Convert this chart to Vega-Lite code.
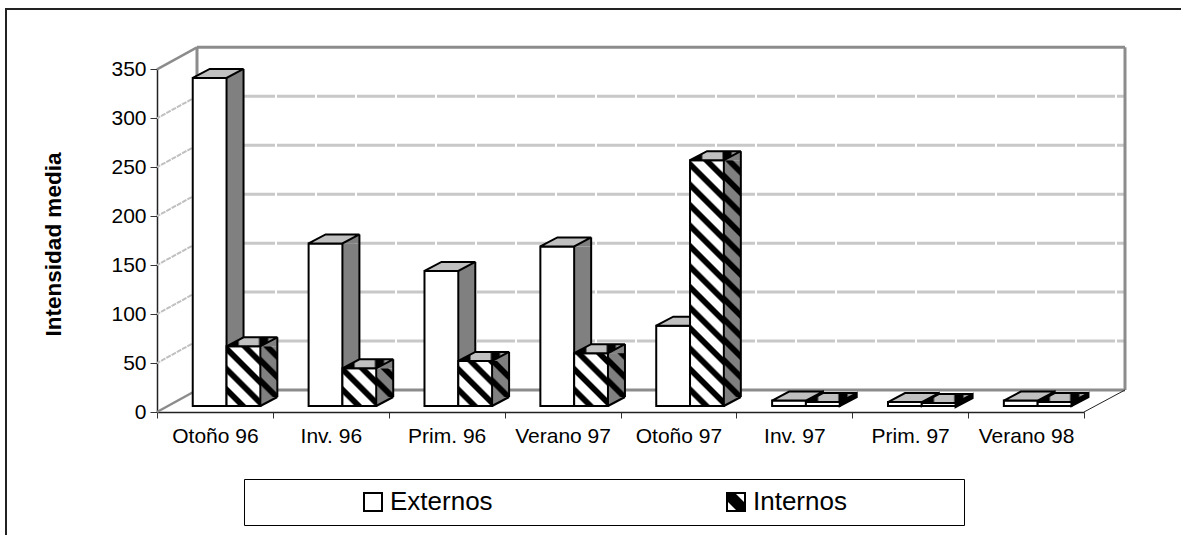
{
"$schema":"https://vega.github.io/schema/vega-lite/v6.json",
"width":1178,"height":529,"autosize":"none",
"padding":{"left":6,"top":9,"right":-3,"bottom":-3},
"background":"white",
"config":{"view":{"stroke":"#222222","strokeWidth":2},"font":"Liberation Sans"},
"datasets":{
"bars":[
{"period":"Otoño 96","series":"Externos","value":335},
{"period":"Otoño 96","series":"Internos","value":61},
{"period":"Inv. 96","series":"Externos","value":166},
{"period":"Inv. 96","series":"Internos","value":38.5},
{"period":"Prim. 96","series":"Externos","value":138},
{"period":"Prim. 96","series":"Internos","value":46},
{"period":"Verano 97","series":"Externos","value":163},
{"period":"Verano 97","series":"Internos","value":54},
{"period":"Otoño 97","series":"Externos","value":82},
{"period":"Otoño 97","series":"Internos","value":251},
{"period":"Inv. 97","series":"Externos","value":5.5},
{"period":"Inv. 97","series":"Internos","value":4},
{"period":"Prim. 97","series":"Externos","value":4},
{"period":"Prim. 97","series":"Internos","value":3},
{"period":"Verano 98","series":"Externos","value":5.5},
{"period":"Verano 98","series":"Internos","value":4}
],
"ticks":[{"tick":0},{"tick":50},{"tick":100},{"tick":150},{"tick":200},{"tick":250},{"tick":300},{"tick":350}]
},
"resolve":{"scale":{"x":"independent","y":"independent"}},
"layer":[
{"data":{"name":"ticks"},
"layer":[
{"transform":[{"filter":"datum.tick>0 && datum.tick<350"}],
"mark":{"type":"rule","stroke":"#c8c8c8","strokeWidth":3,"strokeDash":[38,2]},
"encoding":{"x":{"datum":0,"type":"quantitative","scale":{"domain":[0,8],"range":[191,1119]},"axis":null},"x2":{"datum":8},"y":{"field":"tick","type":"quantitative","scale":{"domain":[0,350],"range":[381,38.3],"nice":false},"axis":null}}},
{"transform":[{"filter":"datum.tick===0 || datum.tick===350"}],
"mark":{"type":"rule","stroke":"#8c8c8c","strokeWidth":3},
"encoding":{"x":{"datum":0,"type":"quantitative","axis":null},"x2":{"datum":8},"y":{"field":"tick","type":"quantitative","axis":null}}},
{"transform":[{"filter":"datum.tick===0"}],
"mark":{"type":"rule","stroke":"#8c8c8c","strokeWidth":3},
"encoding":{"x":{"datum":0,"type":"quantitative","axis":null},"y":{"datum":0,"type":"quantitative","axis":null},"y2":{"datum":350}}},
{"transform":[{"filter":"datum.tick===0"}],
"mark":{"type":"rule","stroke":"#8c8c8c","strokeWidth":3},
"encoding":{"x":{"datum":8,"type":"quantitative","axis":null},"y":{"datum":0,"type":"quantitative","axis":null},"y2":{"datum":350}}},
{"transform":[{"filter":"datum.tick>0 && datum.tick<350"}],
"mark":{"type":"point","shape":"M0,0L-40,22","size":4,"filled":false,"stroke":"#c0c0c0","strokeWidth":2,"strokeDash":[5,1],"opacity":1},
"encoding":{"x":{"datum":0,"type":"quantitative","axis":null},"y":{"field":"tick","type":"quantitative","axis":null}}},
{"transform":[{"filter":"datum.tick===0 || datum.tick===350"}],
"mark":{"type":"point","shape":"M0,0L-40,22","size":4,"filled":false,"stroke":"#8c8c8c","strokeWidth":2.5,"opacity":1},
"encoding":{"x":{"datum":0,"type":"quantitative","axis":null},"y":{"field":"tick","type":"quantitative","axis":null}}},
{"transform":[{"filter":"datum.tick===0"}],
"mark":{"type":"point","shape":"M0,0L-41,22","size":4,"filled":false,"stroke":"#222222","strokeWidth":1,"opacity":1},
"encoding":{"x":{"datum":8,"type":"quantitative","axis":null},"y":{"field":"tick","type":"quantitative","axis":null}}}
]},
{"data":{"name":"bars"},
"encoding":{
"x":{"field":"period","type":"nominal","title":null,"scale":{"type":"band","domain":["Otoño 96","Inv. 96","Prim. 96","Verano 97","Otoño 97","Inv. 97","Prim. 97","Verano 98"],"range":[151,1078],"paddingInner":0,"paddingOuter":0},
"axis":{"offset":-126,"labelAngle":0,"labelFont":"Liberation Sans","labelFontSize":21,"labelColor":"#000000","labelPadding":7,"tickSize":6,"tickBand":"extent","tickColor":"#333333","domainColor":"#222222","domainWidth":1.5,"grid":false,"labelOverlap":false}},
"y":{"field":"value","type":"quantitative","stack":null,"title":"Intensidad media","scale":{"domain":[0,350],"range":[403,60.3],"nice":false},
"axis":{"offset":-151,"values":[0,50,100,150,200,250,300,350],"labelFont":"Liberation Sans","labelFontSize":21,"labelColor":"#000000","labelPadding":4,"tickSize":7,"tickColor":"#333333","domainColor":"#222222","domainWidth":1.5,"grid":false,"titleFont":"Liberation Sans","titleFontSize":22.5,"titleFontWeight":"bold","titleColor":"#000000","titleX":-92,"titleY":235}}
},
"layer":[
{"mark":{"type":"point","size":0,"filled":true,"fill":"#000000","opacity":1},
"encoding":{"shape":{"field":"series","type":"nominal","scale":{"domain":["Externos","Internos"],"range":["M-10,-10H10V10H-10ZM-8,-8V8H8V-8Z","M-10,-10H10V10H-10ZM-8,-8V8H8V-8ZM-8,-8L0,-8L8,0L8,8L0,8L-8,0Z"]},
"legend":{"title":" ","titleOrient":"right","titlePadding":107,"titleFontSize":10,"orient":"none","legendX":238,"legendY":470,"direction":"horizontal","columns":2,"padding":10,"strokeColor":"#000000","fillColor":"#ffffff","symbolSize":4,"symbolFillColor":"#000000","symbolStrokeWidth":0,"symbolOffset":106,"labelFont":"Liberation Sans","labelFontSize":26,"labelColor":"#000000","labelOffset":4,"columnPadding":124,"labelLimit":300}}}},
{"transform":[{"filter":"datum.series==='Externos' && datum.value>=10"}],
"mark":{"type":"bar","width":17,"xOffset":20.1,"yOffset":-6,"y2Offset":-15,"fill":"#808080"},
"encoding":{"y2":{"datum":0}}},
{"transform":[{"filter":"datum.series==='Externos' && datum.value>=10"}],
"mark":{"type":"point","shape":"M-8.5,0L8.5,-9L8.5,0Z","size":4,"filled":true,"fill":"#808080","opacity":1,"xOffset":20.1,"yOffset":-6}},
{"transform":[{"filter":"datum.series==='Externos' && datum.value>=10"}],
"mark":{"type":"point","shape":"M-8.5,0L8.5,0L-8.5,9Z","size":4,"filled":true,"fill":"#808080","opacity":1,"xOffset":20.1,"yOffset":-15},
"encoding":{"y":{"datum":0}}},
{"transform":[{"filter":"datum.series==='Externos' && datum.value>=10"}],
"mark":{"type":"point","shape":"M-8.5,9L8.5,0","size":4,"filled":false,"stroke":"#000000","strokeWidth":2,"opacity":1,"xOffset":20.1,"yOffset":-15},
"encoding":{"y":{"datum":0}}},
{"transform":[{"filter":"datum.series==='Externos' && datum.value>=10"}],
"mark":{"type":"rule","stroke":"#000000","strokeWidth":2,"xOffset":28.6,"yOffset":-15,"y2Offset":-15},
"encoding":{"y2":{"datum":0}}},
{"transform":[{"filter":"datum.series==='Externos' && datum.value<10"}],
"mark":{"type":"point","shape":"M-8.5,0L8.5,-9L8.5,-5L-8.5,4Z","size":4,"filled":true,"fill":"#808080","stroke":"#000000","strokeWidth":2,"opacity":1,"xOffset":20.1,"yOffset":-6}},
{"transform":[{"filter":"datum.series==='Externos'"}],
"mark":{"type":"bar","width":33.8,"xOffset":-5.3,"yOffset":-6,"y2Offset":-6,"stroke":"#000000","strokeWidth":2,"fill":"#ffffff"},
"encoding":{"y2":{"datum":0}}},
{"transform":[{"filter":"datum.series==='Externos'"}],
"mark":{"type":"point","shape":"M-16.9,0L16.9,0L33.9,-9L0.1,-9Z","size":4,"filled":true,"fill":"#c0c0c0","stroke":"#000000","strokeWidth":2,"opacity":1,"xOffset":-5.3,"yOffset":-6}},

{"transform":[{"filter":"datum.series==='Internos' && datum.value>=10"}],
"mark":{"type":"point","shape":"M-8.5,0L8.5,-9L8.5,0Z","size":4,"filled":true,"fill":"#808080","opacity":1,"xOffset":53.9,"yOffset":-6}},
{"transform":[{"filter":"datum.series==='Internos' && datum.value>=10"}],
"mark":{"type":"point","shape":"M-8.5,0L8.5,0L-8.5,9Z","size":4,"filled":true,"fill":"#808080","opacity":1,"xOffset":53.9,"yOffset":-15},
"encoding":{"y":{"datum":0}}},
{"transform":[{"filter":"datum.series==='Internos' && datum.period==='Otoño 96'"}],
"mark":{"type":"bar","width":17,"xOffset":53.9,"yOffset":-6,"y2Offset":-15,"fill":{"gradient":"linear","x1":0,"y1":1,"x2":0.4857,"y2":-0.4514,"stops":[{"offset":0.0125,"color":"#808080"},{"offset":0.1375,"color":"#808080"},{"offset":0.1625,"color":"#000"},{"offset":0.2375,"color":"#000"},{"offset":0.2625,"color":"#808080"},{"offset":0.3875,"color":"#808080"},{"offset":0.4125,"color":"#000"},{"offset":0.4875,"color":"#000"},{"offset":0.5125,"color":"#808080"},{"offset":0.6375,"color":"#808080"},{"offset":0.6625,"color":"#000"},{"offset":0.7375,"color":"#000"},{"offset":0.7625,"color":"#808080"},{"offset":0.8875,"color":"#808080"},{"offset":0.9125,"color":"#000"},{"offset":0.9875,"color":"#000"}]}},
"encoding":{"y2":{"datum":0}}},
{"transform":[{"filter":"datum.series==='Internos' && datum.period==='Inv. 96'"}],
"mark":{"type":"bar","width":17,"xOffset":53.9,"yOffset":-6,"y2Offset":-15,"fill":{"gradient":"linear","x1":0,"y1":1,"x2":1.2525,"y2":-1.1145,"stops":[{"offset":0.0125,"color":"#808080"},{"offset":0.1375,"color":"#808080"},{"offset":0.1625,"color":"#000"},{"offset":0.2375,"color":"#000"},{"offset":0.2625,"color":"#808080"},{"offset":0.3875,"color":"#808080"},{"offset":0.4125,"color":"#000"},{"offset":0.4875,"color":"#000"},{"offset":0.5125,"color":"#808080"},{"offset":0.6375,"color":"#808080"},{"offset":0.6625,"color":"#000"},{"offset":0.7375,"color":"#000"},{"offset":0.7625,"color":"#808080"},{"offset":0.8875,"color":"#808080"},{"offset":0.9125,"color":"#000"},{"offset":0.9875,"color":"#000"}]}},
"encoding":{"y2":{"datum":0}}},
{"transform":[{"filter":"datum.series==='Internos' && datum.period==='Prim. 96'"}],
"mark":{"type":"bar","width":17,"xOffset":53.9,"yOffset":-6,"y2Offset":-15,"fill":{"gradient":"linear","x1":0,"y1":1,"x2":0.8756,"y2":-0.8594,"stops":[{"offset":0.0125,"color":"#808080"},{"offset":0.1375,"color":"#808080"},{"offset":0.1625,"color":"#000"},{"offset":0.2375,"color":"#000"},{"offset":0.2625,"color":"#808080"},{"offset":0.3875,"color":"#808080"},{"offset":0.4125,"color":"#000"},{"offset":0.4875,"color":"#000"},{"offset":0.5125,"color":"#808080"},{"offset":0.6375,"color":"#808080"},{"offset":0.6625,"color":"#000"},{"offset":0.7375,"color":"#000"},{"offset":0.7625,"color":"#808080"},{"offset":0.8875,"color":"#808080"},{"offset":0.9125,"color":"#000"},{"offset":0.9875,"color":"#000"}]}},
"encoding":{"y2":{"datum":0}}},
{"transform":[{"filter":"datum.series==='Internos' && datum.period==='Verano 97'"}],
"mark":{"type":"bar","width":17,"xOffset":53.9,"yOffset":-6,"y2Offset":-15,"fill":{"gradient":"linear","x1":0,"y1":1,"x2":0.629,"y2":-0.6243,"stops":[{"offset":0.0125,"color":"#808080"},{"offset":0.1375,"color":"#808080"},{"offset":0.1625,"color":"#000"},{"offset":0.2375,"color":"#000"},{"offset":0.2625,"color":"#808080"},{"offset":0.3875,"color":"#808080"},{"offset":0.4125,"color":"#000"},{"offset":0.4875,"color":"#000"},{"offset":0.5125,"color":"#808080"},{"offset":0.6375,"color":"#808080"},{"offset":0.6625,"color":"#000"},{"offset":0.7375,"color":"#000"},{"offset":0.7625,"color":"#808080"},{"offset":0.8875,"color":"#808080"},{"offset":0.9125,"color":"#000"},{"offset":0.9875,"color":"#000"}]}},
"encoding":{"y2":{"datum":0}}},
{"transform":[{"filter":"datum.series==='Internos' && datum.period==='Otoño 97'"}],
"mark":{"type":"bar","width":17,"xOffset":53.9,"yOffset":-6,"y2Offset":-15,"fill":{"gradient":"linear","x1":0,"y1":1,"x2":0.08642,"y2":-0.2048,"stops":[{"offset":0.0036,"color":"#808080"},{"offset":0.0393,"color":"#808080"},{"offset":0.0464,"color":"#000"},{"offset":0.0679,"color":"#000"},{"offset":0.075,"color":"#808080"},{"offset":0.1107,"color":"#808080"},{"offset":0.1179,"color":"#000"},{"offset":0.1393,"color":"#000"},{"offset":0.1464,"color":"#808080"},{"offset":0.1821,"color":"#808080"},{"offset":0.1893,"color":"#000"},{"offset":0.2107,"color":"#000"},{"offset":0.2179,"color":"#808080"},{"offset":0.2536,"color":"#808080"},{"offset":0.2607,"color":"#000"},{"offset":0.2821,"color":"#000"},{"offset":0.2893,"color":"#808080"},{"offset":0.325,"color":"#808080"},{"offset":0.3321,"color":"#000"},{"offset":0.3536,"color":"#000"},{"offset":0.3607,"color":"#808080"},{"offset":0.3964,"color":"#808080"},{"offset":0.4036,"color":"#000"},{"offset":0.425,"color":"#000"},{"offset":0.4321,"color":"#808080"},{"offset":0.4679,"color":"#808080"},{"offset":0.475,"color":"#000"},{"offset":0.4964,"color":"#000"},{"offset":0.5036,"color":"#808080"},{"offset":0.5393,"color":"#808080"},{"offset":0.5464,"color":"#000"},{"offset":0.5679,"color":"#000"},{"offset":0.575,"color":"#808080"},{"offset":0.6107,"color":"#808080"},{"offset":0.6179,"color":"#000"},{"offset":0.6393,"color":"#000"},{"offset":0.6464,"color":"#808080"},{"offset":0.6821,"color":"#808080"},{"offset":0.6893,"color":"#000"},{"offset":0.7107,"color":"#000"},{"offset":0.7179,"color":"#808080"},{"offset":0.7536,"color":"#808080"},{"offset":0.7607,"color":"#000"},{"offset":0.7821,"color":"#000"},{"offset":0.7893,"color":"#808080"},{"offset":0.825,"color":"#808080"},{"offset":0.8321,"color":"#000"},{"offset":0.8536,"color":"#000"},{"offset":0.8607,"color":"#808080"},{"offset":0.8964,"color":"#808080"},{"offset":0.9036,"color":"#000"},{"offset":0.925,"color":"#000"},{"offset":0.9321,"color":"#808080"},{"offset":0.9679,"color":"#808080"},{"offset":0.975,"color":"#000"},{"offset":0.9964,"color":"#000"}]}},
"encoding":{"y2":{"datum":0}}},
{"transform":[{"filter":"datum.series==='Internos' && datum.value>=10"}],
"mark":{"type":"point","shape":"M-8.5,9L8.5,0","size":4,"filled":false,"stroke":"#000000","strokeWidth":2,"opacity":1,"xOffset":53.9,"yOffset":-15},
"encoding":{"y":{"datum":0}}},
{"transform":[{"filter":"datum.series==='Internos' && datum.value>=10"}],
"mark":{"type":"rule","stroke":"#000000","strokeWidth":2,"xOffset":62.4,"yOffset":-15,"y2Offset":-15},
"encoding":{"y2":{"datum":0}}},
{"transform":[{"filter":"datum.series==='Internos' && datum.value<10"}],
"mark":{"type":"point","shape":"M-8.5,0L8.5,-9L8.5,-5L-8.5,4Z","size":4,"filled":true,"fill":"#000000","stroke":"#000000","strokeWidth":2,"opacity":1,"xOffset":53.9,"yOffset":-6}},

{"transform":[{"filter":"datum.series==='Internos' && datum.period==='Otoño 96'"}],
"mark":{"type":"bar","width":33.8,"xOffset":28.5,"yOffset":-6,"y2Offset":-6,"stroke":"#000000","strokeWidth":2,"fill":{"gradient":"linear","x1":0,"y1":1,"x2":0.7343,"y2":-0.299,"stops":[{"offset":0.01,"color":"#fff"},{"offset":0.11,"color":"#fff"},{"offset":0.13,"color":"#000"},{"offset":0.19,"color":"#000"},{"offset":0.21,"color":"#fff"},{"offset":0.31,"color":"#fff"},{"offset":0.33,"color":"#000"},{"offset":0.39,"color":"#000"},{"offset":0.41,"color":"#fff"},{"offset":0.51,"color":"#fff"},{"offset":0.53,"color":"#000"},{"offset":0.59,"color":"#000"},{"offset":0.61,"color":"#fff"},{"offset":0.71,"color":"#fff"},{"offset":0.73,"color":"#000"},{"offset":0.79,"color":"#000"},{"offset":0.81,"color":"#fff"},{"offset":0.91,"color":"#fff"},{"offset":0.93,"color":"#000"},{"offset":0.99,"color":"#000"}]}},
"encoding":{"y2":{"datum":0}}},
{"transform":[{"filter":"datum.series==='Internos' && datum.period==='Inv. 96'"}],
"mark":{"type":"bar","width":33.8,"xOffset":28.5,"yOffset":-6,"y2Offset":-6,"stroke":"#000000","strokeWidth":2,"fill":{"gradient":"linear","x1":0,"y1":1,"x2":1.0811,"y2":-0.2058,"stops":[{"offset":0.0125,"color":"#fff"},{"offset":0.1375,"color":"#fff"},{"offset":0.1625,"color":"#000"},{"offset":0.2375,"color":"#000"},{"offset":0.2625,"color":"#fff"},{"offset":0.3875,"color":"#fff"},{"offset":0.4125,"color":"#000"},{"offset":0.4875,"color":"#000"},{"offset":0.5125,"color":"#fff"},{"offset":0.6375,"color":"#fff"},{"offset":0.6625,"color":"#000"},{"offset":0.7375,"color":"#000"},{"offset":0.7625,"color":"#fff"},{"offset":0.8875,"color":"#fff"},{"offset":0.9125,"color":"#000"},{"offset":0.9875,"color":"#000"}]}},
"encoding":{"y2":{"datum":0}}},
{"transform":[{"filter":"datum.series==='Internos' && datum.period==='Prim. 96'"}],
"mark":{"type":"bar","width":33.8,"xOffset":28.5,"yOffset":-6,"y2Offset":-6,"stroke":"#000000","strokeWidth":2,"fill":{"gradient":"linear","x1":0,"y1":1,"x2":0.8726,"y2":-0.1643,"stops":[{"offset":0.0125,"color":"#fff"},{"offset":0.1375,"color":"#fff"},{"offset":0.1625,"color":"#000"},{"offset":0.2375,"color":"#000"},{"offset":0.2625,"color":"#fff"},{"offset":0.3875,"color":"#fff"},{"offset":0.4125,"color":"#000"},{"offset":0.4875,"color":"#000"},{"offset":0.5125,"color":"#fff"},{"offset":0.6375,"color":"#fff"},{"offset":0.6625,"color":"#000"},{"offset":0.7375,"color":"#000"},{"offset":0.7625,"color":"#fff"},{"offset":0.8875,"color":"#fff"},{"offset":0.9125,"color":"#000"},{"offset":0.9875,"color":"#000"}]}},
"encoding":{"y2":{"datum":0}}},
{"transform":[{"filter":"datum.series==='Internos' && datum.period==='Verano 97'"}],
"mark":{"type":"bar","width":33.8,"xOffset":28.5,"yOffset":-6,"y2Offset":-6,"stroke":"#000000","strokeWidth":2,"fill":{"gradient":"linear","x1":0,"y1":1,"x2":0.8791,"y2":-0.3759,"stops":[{"offset":0.01,"color":"#fff"},{"offset":0.11,"color":"#fff"},{"offset":0.13,"color":"#000"},{"offset":0.19,"color":"#000"},{"offset":0.21,"color":"#fff"},{"offset":0.31,"color":"#fff"},{"offset":0.33,"color":"#000"},{"offset":0.39,"color":"#000"},{"offset":0.41,"color":"#fff"},{"offset":0.51,"color":"#fff"},{"offset":0.53,"color":"#000"},{"offset":0.59,"color":"#000"},{"offset":0.61,"color":"#fff"},{"offset":0.71,"color":"#fff"},{"offset":0.73,"color":"#000"},{"offset":0.79,"color":"#000"},{"offset":0.81,"color":"#fff"},{"offset":0.91,"color":"#fff"},{"offset":0.93,"color":"#000"},{"offset":0.99,"color":"#000"}]}},
"encoding":{"y2":{"datum":0}}},
{"transform":[{"filter":"datum.series==='Internos' && datum.period==='Otoño 97'"}],
"mark":{"type":"bar","width":33.8,"xOffset":28.5,"yOffset":-6,"y2Offset":-6,"stroke":"#000000","strokeWidth":2,"fill":{"gradient":"linear","x1":0,"y1":1,"x2":0.15733,"y2":-0.14506,"stops":[{"offset":0.0036,"color":"#fff"},{"offset":0.0393,"color":"#fff"},{"offset":0.0464,"color":"#000"},{"offset":0.0679,"color":"#000"},{"offset":0.075,"color":"#fff"},{"offset":0.1107,"color":"#fff"},{"offset":0.1179,"color":"#000"},{"offset":0.1393,"color":"#000"},{"offset":0.1464,"color":"#fff"},{"offset":0.1821,"color":"#fff"},{"offset":0.1893,"color":"#000"},{"offset":0.2107,"color":"#000"},{"offset":0.2179,"color":"#fff"},{"offset":0.2536,"color":"#fff"},{"offset":0.2607,"color":"#000"},{"offset":0.2821,"color":"#000"},{"offset":0.2893,"color":"#fff"},{"offset":0.325,"color":"#fff"},{"offset":0.3321,"color":"#000"},{"offset":0.3536,"color":"#000"},{"offset":0.3607,"color":"#fff"},{"offset":0.3964,"color":"#fff"},{"offset":0.4036,"color":"#000"},{"offset":0.425,"color":"#000"},{"offset":0.4321,"color":"#fff"},{"offset":0.4679,"color":"#fff"},{"offset":0.475,"color":"#000"},{"offset":0.4964,"color":"#000"},{"offset":0.5036,"color":"#fff"},{"offset":0.5393,"color":"#fff"},{"offset":0.5464,"color":"#000"},{"offset":0.5679,"color":"#000"},{"offset":0.575,"color":"#fff"},{"offset":0.6107,"color":"#fff"},{"offset":0.6179,"color":"#000"},{"offset":0.6393,"color":"#000"},{"offset":0.6464,"color":"#fff"},{"offset":0.6821,"color":"#fff"},{"offset":0.6893,"color":"#000"},{"offset":0.7107,"color":"#000"},{"offset":0.7179,"color":"#fff"},{"offset":0.7536,"color":"#fff"},{"offset":0.7607,"color":"#000"},{"offset":0.7821,"color":"#000"},{"offset":0.7893,"color":"#fff"},{"offset":0.825,"color":"#fff"},{"offset":0.8321,"color":"#000"},{"offset":0.8536,"color":"#000"},{"offset":0.8607,"color":"#fff"},{"offset":0.8964,"color":"#fff"},{"offset":0.9036,"color":"#000"},{"offset":0.925,"color":"#000"},{"offset":0.9321,"color":"#fff"},{"offset":0.9679,"color":"#fff"},{"offset":0.975,"color":"#000"},{"offset":0.9964,"color":"#000"}]}},
"encoding":{"y2":{"datum":0}}},
{"transform":[{"filter":"datum.series==='Internos' && datum.value<10"}],
"mark":{"type":"bar","width":33.8,"xOffset":28.5,"yOffset":-6,"y2Offset":-6,"stroke":"#000000","strokeWidth":2,"fill":"#ffffff"},
"encoding":{"y2":{"datum":0}}},
{"transform":[{"filter":"datum.series==='Internos'"}],
"mark":{"type":"point","shape":"M-16.9,0L16.9,0L33.9,-9L0.1,-9Z","size":4,"filled":true,"stroke":"#000000","strokeWidth":2,"opacity":1,"xOffset":28.5,"yOffset":-6,"fill":{"gradient":"linear","x1":0,"y1":0,"x2":1,"y2":0,"stops":[{"offset":0,"color":"#000"},{"offset":0.22,"color":"#000"},{"offset":0.26,"color":"#c0c0c0"},{"offset":0.62,"color":"#c0c0c0"},{"offset":0.66,"color":"#000"},{"offset":0.8,"color":"#000"},{"offset":0.84,"color":"#a0a0a0"},{"offset":1,"color":"#a0a0a0"}]}}}
]}
]}
